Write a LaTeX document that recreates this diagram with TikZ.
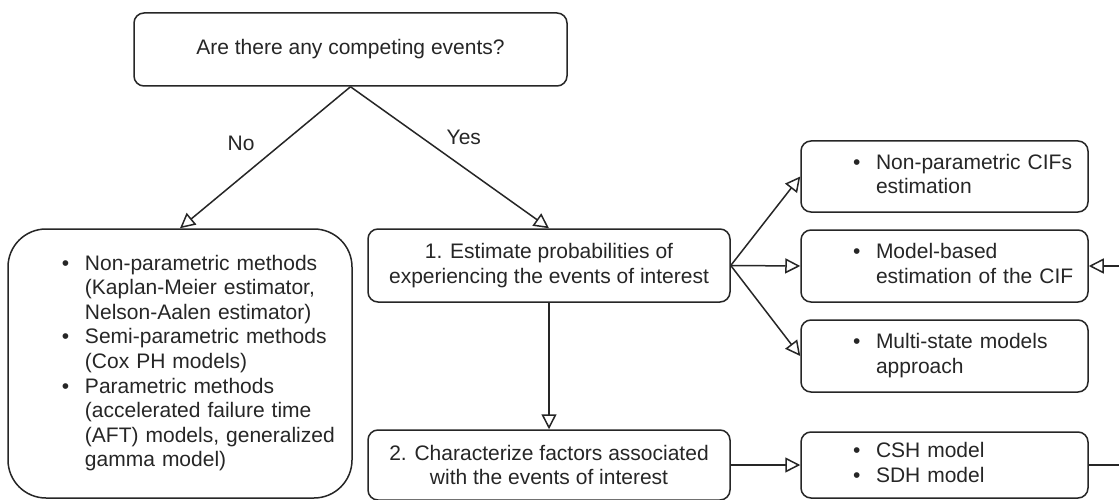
\documentclass[tikz,border=0pt]{standalone}
\usepackage{fontspec}
\setmainfont{Liberation Sans}
\usetikzlibrary{arrows.meta}

% bullet with its hanging space
\newcommand{\blt}{\makebox[23pt][l]{\textbullet}}

\begin{document}
\begin{tikzpicture}[x=1pt, y=-1pt,
  box/.style={draw=black!85, line width=1.5pt, rounded corners=10pt, inner sep=0pt,
    font=\fontsize{21}{24.6}\selectfont, text=black!85},
  centerbox/.style={box, align=center},
  listbox/.style={box, align=left},
  flow/.style={draw=black!85, line width=1.5pt, -{Triangle[open, length=15pt, width=15pt]}},
  branch/.style={font=\fontsize{21}{24.6}\selectfont, text=black!85, inner sep=0pt}]
  % Frame
  \useasboundingbox (0,0) rectangle (1119,500);
  \clip (0,0) rectangle (1119,500);
  \fill[white] (0,0) rectangle (1119,500);

  % Question
  \node[centerbox, minimum width=433pt, minimum height=73pt] (Q) at (350.5,49.5)
    {Are there any competing events?};

  % No competing events
  \node[listbox, rounded corners=38pt, text width=344pt, minimum height=269pt] (L) at (180,363.5)
    {\hspace*{54pt}\begin{tabular}{@{}l@{}l@{}}
      \blt & Non-parametric methods\\
           & (Kaplan-Meier estimator,\\
           & Nelson-Aalen estimator)\\
      \blt & Semi-parametric methods\\
           & (Cox PH models)\\
      \blt & Parametric methods\\
           & (accelerated failure time\\
           & (AFT) models, generalized\\
           & gamma model)
    \end{tabular}};

  % Competing events: two steps
  \node[centerbox, minimum width=362pt, minimum height=73pt] (E) at (549,265.5)
    {1. Estimate probabilities of\\experiencing the events of interest};
  \node[centerbox, minimum width=362pt, minimum height=70pt] (C) at (549,465)
    {2. Characterize factors associated\\with the events of interest};

  % Methods on the right
  \node[listbox, text width=287pt, minimum height=71pt] (N) at (944.5,176.5)
    {\hspace*{52pt}\begin{tabular}{@{}l@{}l@{}}
      \blt & Non-parametric CIFs\\
           & estimation
    \end{tabular}};
  \node[listbox, text width=287pt, minimum height=72pt] (M) at (944.5,266)
    {\hspace*{52pt}\begin{tabular}{@{}l@{}l@{}}
      \blt & Model-based\\
           & estimation of the CIF
    \end{tabular}};
  \node[listbox, text width=287pt, minimum height=72pt] (S) at (944.5,356)
    {\hspace*{52pt}\begin{tabular}{@{}l@{}l@{}}
      \blt & Multi-state models\\
           & approach
    \end{tabular}};
  \node[listbox, text width=287pt, minimum height=66pt] (H) at (944.5,465)
    {\hspace*{52pt}\begin{tabular}{@{}l@{}l@{}}
      \blt & CSH model\\
      \blt & SDH model
    \end{tabular}};

  % Connectors
  \draw[flow] (Q.south) -- node[branch, pos=0.4, left=27pt] {No} (L.north);
  \draw[flow] (Q.south) -- node[branch, pos=0.36, right=24pt] {Yes} (E.north);
  \draw[flow] (E.south) -- (C.north);
  \draw[flow] (E.east) -- (N.west);
  \draw[flow] (E.east) -- (M.west);
  \draw[flow] (E.east) -- (S.west);
  \draw[flow] (C.east) -- (H.west);
  \draw[flow] (H.east) -- ++(60,0) |- (M.east);
\end{tikzpicture}
\end{document}
